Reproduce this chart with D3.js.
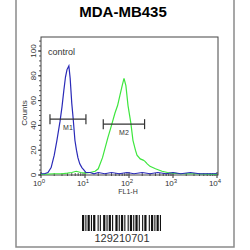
<!DOCTYPE html>
<html>
<head>
<meta charset="utf-8">
<script src="https://cdn.jsdelivr.net/npm/d3@7"></script>
<style>
body { margin: 0; background: #fff; }
svg { display: block; font-family: Arial, "Liberation Sans", sans-serif; }
</style>
</head>
<body>
<svg width="250" height="250"></svg>
<script>
// FL1-H values (log axis) and counts
const controlX = [1, 1.2, 1.44, 1.7, 2.0, 2.3, 2.7, 3.0, 3.3, 3.6, 3.9, 4.3, 4.6, 5.0, 5.4, 5.9, 6.4, 6.9, 7.6, 8.5, 9.5, 10.5, 13, 16, 20, 28, 40, 60, 90, 130, 200, 300, 450, 700, 1000, 1500, 2500, 4000, 6000, 10000]
const controlY = [1, 1, 2, 6, 16, 28, 43, 55, 68, 79, 85, 88, 78, 58, 45, 28, 20, 14, 9, 6, 4, 2, 2, 1, 2, 1, 2, 1, 2, 1, 2, 1, 2, 1, 2, 1, 2, 1, 1, 1]
const sampleX = [1, 2, 3, 4, 5, 6.3, 8, 10, 13, 17, 20, 25, 33, 40, 48, 55, 62, 70, 77, 85, 95, 110, 123, 140, 152, 180, 210, 231, 260, 300, 400, 562, 750, 950, 1500, 3000, 10000]
const sampleY = [0.5, 1, 1, 1.5, 2, 3, 2, 1.5, 2, 3, 5, 14, 30, 40, 50, 56, 64, 72, 78, 72, 56, 42, 28, 20, 16, 13, 12, 11, 9, 7, 5, 3, 2, 1.5, 1, 1, 0.5]
const gates = [
    { name: "M1", lo: 1.6, hi: 10.5, level: 45 },
    { name: "M2", lo: 26, hi: 226, level: 41 }
]
const xTicks = [1, 10, 100, 1000, 10000]
const yTicks = [0, 20, 40, 60, 80, 100]
const barcodeWidths = [2,1,1,1,2,1,1,1,2,2,1,1,1,2,2,1,1,1,2,1,1,2,2,1,1,1,2,1,1,2,1,1,2,1,1,1,2,1,1,2,1,1,2,2,1,1,2,1,1,1,2,1,1]

let svg = d3.select("svg")

// outer frame
svg.append("rect")
    .attr("x", 16).attr("y", -5)
    .attr("width", 218).attr("height", 252)
    .attr("fill", "none").attr("stroke", "#8a8a8a").attr("stroke-width", 1.5)

svg.append("text")
    .attr("x", 123).attr("y", 17)
    .attr("text-anchor", "middle")
    .attr("font-size", 15).attr("font-weight", "bold")
    .text("MDA-MB435")

let x = d3.scaleLog().domain([1, 10000]).range([41, 217])
let y = d3.scaleLinear().domain([0, 100]).range([175, 51])

// plot box
svg.append("rect")
    .attr("x", 41).attr("y", 37)
    .attr("width", 177).attr("height", 138)
    .attr("fill", "none").attr("stroke", "#444").attr("stroke-width", 1)

// y axis ticks
let yMinor = d3.range(0, 111, 4)
svg.selectAll(".ymin").data(yMinor).enter().append("line")
    .attr("x1", 39).attr("x2", 41)
    .attr("y1", d => y(d)).attr("y2", d => y(d))
    .attr("stroke", "#333").attr("stroke-width", 0.8)
svg.selectAll(".ymaj").data(yTicks).enter().append("line")
    .attr("x1", 38).attr("x2", 41)
    .attr("y1", d => y(d)).attr("y2", d => y(d))
    .attr("stroke", "#333")
svg.selectAll(".ylab").data(yTicks).enter().append("text")
    .attr("transform", d => "translate(36," + y(d) + ") rotate(-90)")
    .attr("text-anchor", "middle")
    .attr("font-size", 8).attr("fill", "#333")
    .text(d => d)
svg.append("text")
    .attr("transform", "translate(27,113) rotate(-90)")
    .attr("text-anchor", "middle")
    .attr("font-size", 8).attr("fill", "#333")
    .text("Counts")

// x axis ticks
let xMinor = []
xTicks.slice(0, -1).forEach(t => { for (let k = 2; k < 10; k++) xMinor.push(t * k) })
svg.selectAll(".xmin").data(xMinor).enter().append("line")
    .attr("x1", d => x(d)).attr("x2", d => x(d))
    .attr("y1", 173).attr("y2", 176)
    .attr("stroke", "#333").attr("stroke-width", 0.8)
svg.selectAll(".xmaj").data(xTicks).enter().append("line")
    .attr("x1", d => x(d)).attr("x2", d => x(d))
    .attr("y1", 172).attr("y2", 178)
    .attr("stroke", "#333")
let xl = svg.selectAll(".xlab").data(xTicks).enter().append("text")
    .attr("x", d => x(d) - 2).attr("y", 186)
    .attr("text-anchor", "middle")
    .attr("font-size", 8).attr("fill", "#333")
xl.append("tspan").text("10")
xl.append("tspan").attr("dy", -3).attr("font-size", 6).text(d => Math.round(Math.log10(d)))
svg.append("text")
    .attr("x", 128).attr("y", 194)
    .attr("text-anchor", "middle")
    .attr("font-size", 7).attr("fill", "#333")
    .text("FL1-H")

svg.append("text")
    .attr("x", 48).attr("y", 55)
    .attr("font-size", 9).attr("fill", "#333")
    .text("control")

// histograms
let line = d3.line()
    .x(d => x(d[0]))
    .y(d => y(d[1]))
svg.append("path")
    .datum(sampleX.map((v, i) => [v, sampleY[i]]))
    .attr("d", line)
    .attr("fill", "none").attr("stroke", "#3de63d").attr("stroke-width", 1.2)
svg.append("path")
    .datum(controlX.map((v, i) => [v, controlY[i]]))
    .attr("d", line)
    .attr("fill", "none").attr("stroke", "#2a2ab8").attr("stroke-width", 1.2)

// gate markers
let g = svg.selectAll(".gate").data(gates).enter().append("g")
g.append("line")
    .attr("x1", d => x(d.lo)).attr("x2", d => x(d.hi))
    .attr("y1", d => y(d.level)).attr("y2", d => y(d.level))
    .attr("stroke", "#333").attr("stroke-width", 1.2)
g.append("line")
    .attr("x1", d => x(d.lo)).attr("x2", d => x(d.lo))
    .attr("y1", d => y(d.level) - 5).attr("y2", d => y(d.level) + 5)
    .attr("stroke", "#333").attr("stroke-width", 1.2)
g.append("line")
    .attr("x1", d => x(d.hi)).attr("x2", d => x(d.hi))
    .attr("y1", d => y(d.level) - 5).attr("y2", d => y(d.level) + 5)
    .attr("stroke", "#333").attr("stroke-width", 1.2)
g.append("text")
    .attr("x", d => x(Math.sqrt(d.lo * d.hi)))
    .attr("y", d => y(d.level) + 11)
    .attr("text-anchor", "middle")
    .attr("font-size", 7).attr("fill", "#333")
    .text(d => d.name)

// barcode
let pos = 82
let bars = []
barcodeWidths.forEach((w, i) => {
    if (i % 2 == 0) bars.push({ x: pos, w: w })
    pos += w
})
let bscale = d3.scaleLinear().domain([82, pos]).range([82, 161])
svg.selectAll(".bar").data(bars).enter().append("rect")
    .attr("x", d => bscale(d.x))
    .attr("width", d => bscale(d.x + d.w) - bscale(d.x))
    .attr("y", 215).attr("height", 16)
    .attr("fill", "#111")
svg.append("text")
    .attr("x", 122).attr("y", 242)
    .attr("text-anchor", "middle")
    .attr("font-size", 11).attr("fill", "#333")
    .text("129210701")
</script>
</body>
</html>
